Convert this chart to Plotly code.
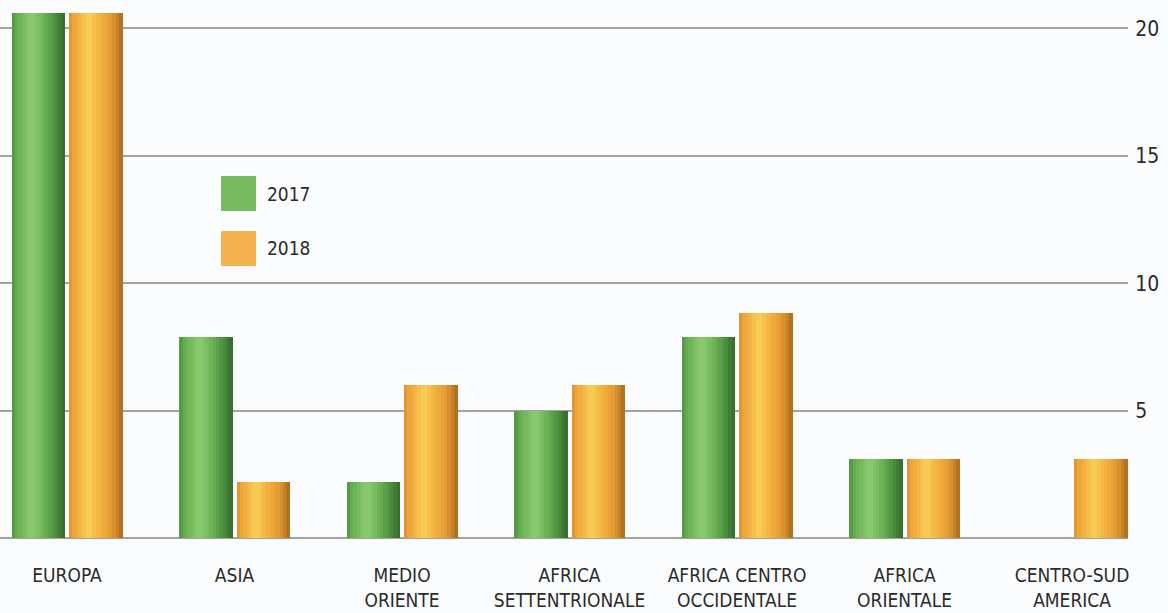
import plotly.graph_objects as go

# ---- data ----
categories = ["EUROPA", "ASIA", "MEDIO<br>ORIENTE", "AFRICA<br>SETTENTRIONALE",
              "AFRICA CENTRO<br>OCCIDENTALE", "AFRICA<br>ORIENTALE", "CENTRO-SUD<br>AMERICA"]
values_2017 = [20.6, 7.9, 2.2, 5.0, 7.9, 3.1, None]
values_2018 = [20.6, 2.2, 6.0, 6.0, 8.85, 3.1, 3.1]
y_ticks = [5, 10, 15, 20]
series_names = ["2017", "2018"]

# ---- style ----
FONT = "DejaVu Sans Condensed, Roboto, sans-serif"
W = 0.318
offsets = [-0.33, 0.012]
green_stops = [(0.0, "#4a8f3f"), (0.06, "#62a94d"), (0.2, "#72b95a"), (0.38, "#8fcb74"),
               (0.5, "#7cc062"), (0.65, "#66ad50"), (0.8, "#4f9442"), (0.92, "#3f7a35"),
               (1.0, "#356a2d")]
orange_stops = [(0.0, "#d98f2c"), (0.06, "#eca238"), (0.2, "#f3b243"), (0.38, "#f9d258"),
                (0.5, "#f5bb47"), (0.65, "#efaa3c"), (0.8, "#e29a33"), (0.92, "#c47f25"),
                (1.0, "#a86c1f")]
legend_colors = ["#7aba62", "#f4b350"]
N_SLICES = 16


def hex2rgb(h):
    h = h.lstrip("#")
    return tuple(int(h[i:i + 2], 16) for i in (0, 2, 4))


def interp(stops, t):
    for (t0, c0), (t1, c1) in zip(stops[:-1], stops[1:]):
        if t0 <= t <= t1:
            a = (t - t0) / (t1 - t0) if t1 > t0 else 0
            r0, g0, b0 = hex2rgb(c0)
            r1, g1, b1 = hex2rgb(c1)
            return "rgb(%d,%d,%d)" % (r0 + (r1 - r0) * a, g0 + (g1 - g0) * a, b0 + (b1 - b0) * a)
    return stops[-1][1]


x_pos = list(range(len(categories)))
fig = go.Figure()
for vals, off, stops in [(values_2017, offsets[0], green_stops), (values_2018, offsets[1], orange_stops)]:
    for k in range(N_SLICES):
        f0 = k / N_SLICES
        f1 = (k + 1) / N_SLICES
        col = interp(stops, (f0 + f1) / 2)
        fig.add_trace(go.Bar(
            x=x_pos, y=vals,
            offset=off + f0 * W,
            width=(f1 - f0) * W + 0.0015,
            marker=dict(color=col, line=dict(width=0)),
            showlegend=False, hoverinfo="skip",
        ))

# legend drawn as shapes + text
PLOT_W = 1128.0
PLOT_H = 535.0
PLOT_TOP = 3.0


def px(xp):
    return xp / PLOT_W


def py(yp):
    return (PLOT_TOP + PLOT_H - yp) / PLOT_H


leg_rows = [(176, 211), (231, 266)]
for (y0, y1), col, name in zip(leg_rows, legend_colors, series_names):
    fig.add_shape(type="rect", xref="paper", yref="paper",
                  x0=px(221), x1=px(256), y0=py(y1), y1=py(y0),
                  fillcolor=col, line=dict(width=0), layer="above")
    fig.add_annotation(xref="paper", yref="paper", x=px(265), y=py((y0 + y1) / 2),
                       text=name, showarrow=False, xanchor="left", yanchor="middle",
                       font=dict(size=19, color="#2b2b2b", family=FONT))

fig.update_layout(
    width=1168, height=613,
    margin=dict(l=0, r=40, t=3, b=75, autoexpand=False),
    barmode="overlay",
    bargap=0,
    paper_bgcolor="#fbfcfe",
    plot_bgcolor="#fbfcfe",
    showlegend=False,
    font=dict(family=FONT, color="#2b2b2b"),
    xaxis=dict(
        range=[-0.4, 6.334],
        tickvals=x_pos, ticktext=categories,
        showgrid=False, zeroline=False, showline=False,
        ticks="outside", ticklen=20, tickcolor="rgba(0,0,0,0)",
        tickfont=dict(size=19, family=FONT, color="#2b2b2b"),
        tickangle=0, automargin=False,
    ),
    yaxis=dict(
        side="right",
        range=[0, 21],
        tickvals=y_ticks,
        showgrid=True, gridcolor="#a3a3a3", gridwidth=2,
        zeroline=True, zerolinecolor="#a3a3a3", zerolinewidth=2,
        showline=False,
        ticks="outside", ticklen=2, tickcolor="rgba(0,0,0,0)",
        tickfont=dict(size=21, family=FONT, color="#2b2b2b"),
        automargin=False,
    ),
)

fig.write_html("out.html", config={"displayModeBar": False},
               post_script="document.body.style.margin='0';")
